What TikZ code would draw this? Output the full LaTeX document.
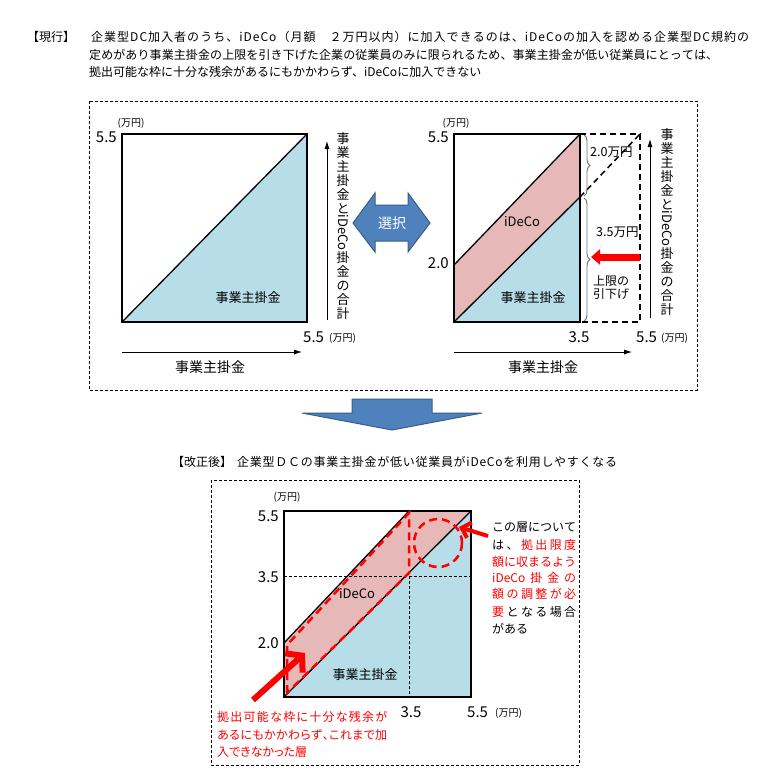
\documentclass[tikz,border=0pt]{standalone}
\usepackage{fontspec}
\setmainfont{Noto Sans CJK JP}
\usepackage{graphicx}
\usetikzlibrary{calc}
\usetikzlibrary{arrows.meta}
\usetikzlibrary{decorations.pathreplacing}
\definecolor{empblue}{RGB}{183, 221, 232}
\definecolor{idecopink}{RGB}{230, 185, 184}
\definecolor{selblue}{RGB}{79, 129, 189}
\definecolor{seledge}{RGB}{56, 93, 138}
\definecolor{bracegray}{RGB}{110, 110, 110}
% spread the characters of a line evenly (used inside \makebox[..][s])
\makeatletter
\let\spread@end\relax
\def\spread@endm{\spread@end}
\newcommand\spreadchars[1]{\spread@a#1\spread@end}
\def\spread@a#1{#1\spread@b}
\def\spread@b#1{\def\spread@tmp{#1}%
  \ifx\spread@tmp\spread@endm
    \expandafter\@gobble
  \else
    \hfill\expandafter\@firstofone
  \fi{\spread@a{#1}}}
\makeatother

\begin{document}
\begin{tikzpicture}[x=1pt, y=-1pt,
    num/.style={font=\fontsize{15}{15}\selectfont, inner sep=0pt},
    unit/.style={font=\fontsize{10}{10}\selectfont, inner sep=0pt},
    inlabel/.style={font=\fontsize{13}{13}\selectfont, inner sep=0pt},
    axislabel/.style={font=\fontsize{14}{14}\selectfont, inner sep=0pt},
    note/.style={font=\fontsize{12}{17}\selectfont, inner sep=0pt, anchor=west},
    vlabel/.style={font=\fontsize{13}{14}\selectfont, inner sep=0pt, align=center},
    frame/.style={dash pattern=on 3pt off 2pt, line width=0.6pt},
    square/.style={line width=2pt},
    axis/.style={line width=0.8pt, -{Latex[length=8pt,width=5pt]}}]
            \useasboundingbox (0,0) rectangle (775,784);
            % Heading (current rule)
            \node[note] (head1) at (27,37) {【現行】};
            \node[note] (body1) at (91,37) {\makebox[658pt][s]{\spreadchars{企業型DC加入者のうち、iDeCo（月額　２万円以内）に加入できるのは、iDeCoの加入を認める企業型DC規約の}}};
            \node[note] (body2) at (89,55) {\makebox[629pt][s]{\spreadchars{定めがあり事業主掛金の上限を引き下げた企業の従業員のみに限られるため、事業主掛金が低い従業員にとっては、}}};
            \node[note] (body3) at (89,72) {拠出可能な枠に十分な残余があるにもかかわらず、iDeCoに加入できない};
            \draw[frame] (89,101) rectangle (697,390);

            % Left chart: employer contribution only
            \fill[empblue] (122,322) -- (307,322) -- (307,134) -- cycle;
            \draw[line width=1.3pt] (122,322) -- (307,134);
            \draw[square] (122,134) rectangle (307,322);
            \node[unit] (lunit) at (131,123) {(万円)};
            \node[num, anchor=east] (ltop) at (117,137) {5.5};
            \node[inlabel] (lemp) at (248,298) {事業主掛金};
            \node[num, anchor=west] (lright) at (303,337) {5.5};
            \node[unit, anchor=west] (lrunit) at (329,338) {(万円)};
            \draw[axis] (122,352) -- (302,352);
            \node[axislabel] (lxlab) at (210,367) {事業主掛金};
            \draw[axis] (327,320) -- (327,141);
            \node[vlabel] (lylab) at (343,226) {事\\業\\主\\掛\\金\\と\\\rotatebox[origin=c]{-90}{iDeCo}\\掛\\金\\の\\合\\計};

            % Choice arrow
            \filldraw[fill=selblue, draw=seledge, line width=1pt]
                (353,223) -- (375,193) -- (375,205) -- (408,205) -- (408,193) -- (430,223)
                -- (408,252) -- (408,241) -- (375,241) -- (375,252) -- cycle;
            \node[font=\fontsize{14}{14}\selectfont, text=white] (choice) at (392,223) {選択};

            % Right chart: lowered cap plus iDeCo
            \fill[idecopink] (454,265) -- (580,134) -- (580,197) -- (454,322) -- cycle;
            \fill[empblue] (454,322) -- (580,322) -- (580,197) -- cycle;
            \draw[line width=1.3pt] (454,265) -- (580,134);
            \draw[line width=1.3pt] (454,322) -- (580,197);
            \draw[line width=1.5pt, dash pattern=on 6pt off 4pt] (580,197) -- (640,134);
            \draw[line width=2pt, dash pattern=on 6pt off 4pt] (580,134) -- (640,134) -- (640,322) -- (580,322);
            \draw[square] (454,134) rectangle (580,322);
            \draw[bracegray, line width=0.9pt, decorate, decoration={brace, amplitude=6pt}] (584,135) -- (584,196);
            \draw[bracegray, line width=0.9pt, decorate, decoration={brace, amplitude=6pt}] (584,198) -- (584,321);
            \node[unit] (runit) at (456,123) {(万円)};
            \node[num, anchor=east] (rtop) at (449,137) {5.5};
            \node[num, anchor=east] (rmid) at (449,263) {2.0};
            \node[inlabel] (rideco) at (522,222) {iDeCo};
            \node[inlabel] (remp) at (533,298) {事業主掛金};
            \node[font=\fontsize{12.5}{13}\selectfont, inner sep=0pt, anchor=west] (rtwo) at (590,152) {2.0万円};
            \node[font=\fontsize{12.5}{13}\selectfont, inner sep=0pt, anchor=west] (rthree) at (596,232) {3.5万円};
            \draw[red, line width=7pt, -{Triangle[length=9pt,width=15pt]}] (640,257) -- (591,257);
            \node[font=\fontsize{12}{13}\selectfont, inner sep=0pt, anchor=west, align=left] (rcut) at (593,288) {上限の\\引下げ};
            \node[num] (rcap) at (579,337) {3.5};
            \node[num, anchor=west] (rright) at (636,337) {5.5};
            \node[unit, anchor=west] (rrunit) at (661,338) {(万円)};
            \draw[axis] (454,352) -- (632,352);
            \node[axislabel] (rxlab) at (543,367) {事業主掛金};
            \draw[axis] (650,318) -- (650,139);
            \node[vlabel] (rylab) at (667,222) {事\\業\\主\\掛\\金\\と\\\rotatebox[origin=c]{-90}{iDeCo}\\掛\\金\\の\\合\\計};

            % Down arrow
            \filldraw[fill=selblue, draw=seledge, line width=1pt]
                (352,399) -- (432,399) -- (432,413) -- (482,413) -- (392,430) -- (302,413) -- (352,413) -- cycle;

            % Heading (after revision)
            \node[note] (head2) at (172,462) {【改正後】};
            \node[note] (body4) at (237,462) {\makebox[380pt][s]{\spreadchars{企業型ＤＣの事業主掛金が低い従業員がiDeCoを利用しやすくなる}}};
            \draw[frame] (211,480) rectangle (579,765);

            % Bottom chart
            \fill[idecopink] (284,643) -- (409,511) -- (471,511) -- (284,697) -- cycle;
            \fill[empblue] (284,697) -- (471,697) -- (471,511) -- cycle;
            \draw[dash pattern=on 3pt off 2pt, line width=0.7pt] (284,576) -- (471,576);
            \draw[dash pattern=on 3pt off 2pt, line width=0.7pt] (409,576) -- (409,697);
            \draw[line width=1.3pt] (284,697) -- (471,511);
            \draw[line width=1.3pt] (284,643) -- (409,511);
            \draw[square] (284,511) rectangle (471,697);
            \draw[red, line width=2.5pt, dash pattern=on 8pt off 5pt] (287,693) -- (287,645) -- (409,513) -- (409,573) -- cycle;
            \draw[red, line width=2.5pt, dash pattern=on 8pt off 5pt] (438,543) circle (24);
            \node[unit] (bunit) at (287,497) {(万円)};
            \node[num, anchor=east] (btop) at (279,516) {5.5};
            \node[num, anchor=east] (bmid) at (279,577) {3.5};
            \node[num, anchor=east] (blow) at (279,643) {2.0};
            \node[inlabel] (bideco) at (357,594) {iDeCo};
            \node[inlabel] (bemp) at (365,675) {事業主掛金};
            \node[num] (bthree) at (411,712) {3.5};
            \node[num, anchor=west] (bright) at (467,712) {5.5};
            \node[unit, anchor=west] (brunit) at (495,713) {(万円)};
            \draw[red, line width=6pt, -{Straight Barb[length=11pt,width=26pt]}] (253,700) -- (305,653);
            \draw[red, line width=4pt, -{Straight Barb[length=8pt,width=16pt]}] (488,536) -- (459,527);

            % Notes in the bottom chart
            \node[note] (n1) at (492,527) {\makebox[84pt][s]{\spreadchars{この層について}}};
            \node[note] (n2) at (492,545) {\makebox[84pt][s]{\spreadchars{は、}\hfill\textcolor{red}{\spreadchars{拠出限度}}}};
            \node[note, red] (n3) at (492,562) {\makebox[84pt][s]{\spreadchars{額に収まるよう}}};
            \node[note, red] (n4) at (492,578) {\makebox[84pt][s]{iDeCo\hfill\spreadchars{掛金の}}};
            \node[note, red] (n5) at (492,594) {\makebox[84pt][s]{\spreadchars{額の調整が必}}};
            \node[note] (n6) at (492,612) {\makebox[84pt][s]{\textcolor{red}{要}\hfill\spreadchars{となる場合}}};
            \node[note] (n7) at (492,629) {がある};
            \node[note, red, font=\fontsize{12}{17}\selectfont\addfontfeature{RawFeature=+palt}] (m1) at (217,717) {\makebox[170pt][s]{\spreadchars{拠出可能な枠に十分な残余が}}};
            \node[note, red, font=\fontsize{12}{17}\selectfont\addfontfeature{RawFeature=+palt}] (m2) at (217,735) {\makebox[170pt][s]{\spreadchars{あるにもかかわらず、これまで加}}};
            \node[note, red, font=\fontsize{12}{17}\selectfont\addfontfeature{RawFeature=+palt}] (m3) at (217,752) {入できなかった層};
\end{tikzpicture}
\end{document}
